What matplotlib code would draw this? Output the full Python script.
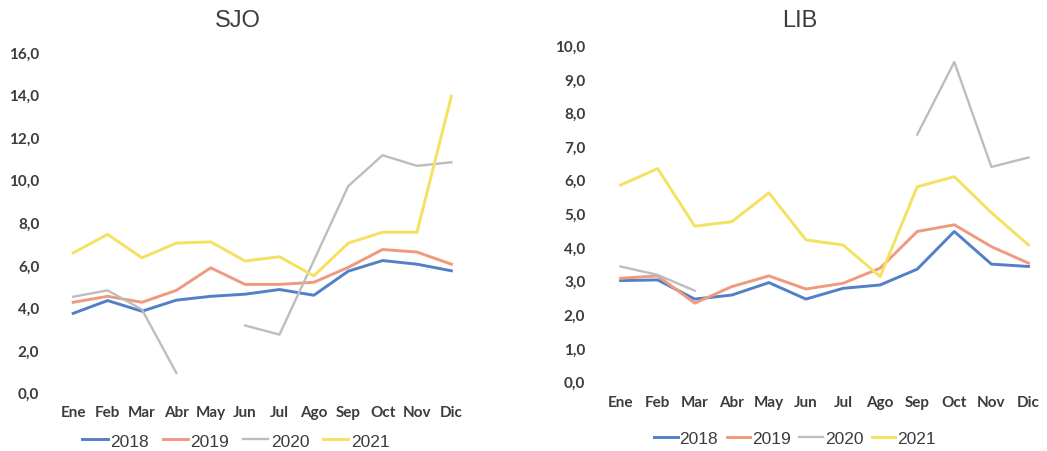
import numpy as np
import matplotlib
matplotlib.use("Agg")
import matplotlib.pyplot as plt
from matplotlib.ticker import FuncFormatter

# months (Spanish abbreviations)
meses = ["Ene", "Feb", "Mar", "Abr", "May", "Jun", "Jul", "Ago", "Sep", "Oct", "Nov", "Dic"]
anios = ["2018", "2019", "2020", "2021"]

nan = np.nan
# SJO values
sjo_2018 = [3.72, 4.32, 3.82, 4.34, 4.52, 4.62, 4.84, 4.57, 5.70, 6.20, 6.03, 5.72]
sjo_2019 = [4.24, 4.52, 4.24, 4.80, 5.86, 5.08, 5.08, 5.18, 5.88, 6.72, 6.60, 6.03]
sjo_2020 = [4.50, 4.80, 3.90, 0.92, nan, 3.15, 2.72, 6.20, 9.70, 11.15, 10.65, 10.82]
sjo_2021 = [6.56, 7.43, 6.33, 7.02, 7.08, 6.18, 6.38, 5.48, 7.02, 7.53, 7.53, 13.92]

# LIB values
lib_2018 = [3.00, 3.02, 2.45, 2.57, 2.94, 2.45, 2.77, 2.87, 3.34, 4.46, 3.49, 3.42]
lib_2019 = [3.07, 3.14, 2.33, 2.82, 3.14, 2.75, 2.92, 3.37, 4.46, 4.66, 4.01, 3.52]
lib_2020 = [3.42, 3.17, 2.70, nan, nan, nan, nan, nan, 7.34, 9.50, 6.38, 6.66]
lib_2021 = [5.84, 6.33, 4.62, 4.75, 5.61, 4.21, 4.06, 3.12, 5.79, 6.09, 5.02, 4.06]

colores = ["#527FC8", "#EF9A7E", "#BDBDBD", "#F5E160"]
grosor = [2.1, 2.1, 1.7, 2.1]
texto = "#3c3c3c"

fig = plt.figure(figsize=(10.47, 4.52), dpi=100)

def coma(v, pos):
    return "{:.1f}".format(v).replace(".", ",")

def panel(rect, titulo, tit_xy, series, ymax, paso, pad_x, leg_xy, leg_kw):
    ax = fig.add_axes(rect)
    x = np.arange(len(meses))
    for s, c, lw, lab in zip(series, colores, grosor, anios):
        ax.plot(x, s, color=c, lw=lw, label=lab, solid_joinstyle="round")
    ax.set_xlim(-0.5, len(meses) - 0.5)
    ax.set_ylim(0, ymax)
    ax.set_yticks(np.arange(0, ymax + 0.01, paso))
    ax.yaxis.set_major_formatter(FuncFormatter(coma))
    ax.set_xticks(x)
    ax.set_xticklabels(meses)
    for sp in ax.spines.values():
        sp.set_visible(False)
    ax.tick_params(length=0, colors=texto)
    ax.tick_params(axis="y", pad=12)
    ax.tick_params(axis="x", pad=pad_x)
    for t in ax.get_xticklabels() + ax.get_yticklabels():
        t.set_fontfamily("Lato")
        t.set_fontweight("bold")
        t.set_fontsize(11)
    # title centred on the chart area, like the spreadsheet does
    fig.text(tit_xy[0], tit_xy[1], titulo, fontsize=17, color=texto,
             family="Liberation Sans", ha="center", va="center")
    leg = ax.legend(loc="center", bbox_to_anchor=leg_xy, bbox_transform=fig.transFigure,
                    ncol=4, frameon=False, prop={"family": "Liberation Sans", "size": 12.5},
                    **leg_kw)
    for t in leg.get_texts():
        t.set_color(texto)
    return ax

panel([0.0535, 0.1294, 0.394, 0.7533], "SJO", (238 / 1047, 1 - 21 / 452),
      [sjo_2018, sjo_2019, sjo_2020, sjo_2021],
      16, 2, 9, (236 / 1047, 1 - 442 / 452),
      dict(handlelength=1.45, handletextpad=0.15, columnspacing=0.8))
panel([0.575, 0.1538, 0.425, 0.744], "LIB", (800 / 1047, 1 - 21 / 452),
      [lib_2018, lib_2019, lib_2020, lib_2021],
      10, 1, 10, (795 / 1047, 1 - 439 / 452),
      dict(handlelength=1.35, handletextpad=0.1, columnspacing=0.5))

fig.savefig("out.png", dpi=100)
